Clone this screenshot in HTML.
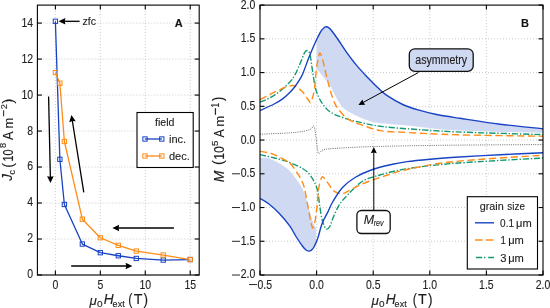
<!DOCTYPE html>
<html><head><meta charset="utf-8"><style>
html,body{margin:0;padding:0;background:#fff;width:550px;height:308px;overflow:hidden;position:relative}
text{stroke:#1e1e1e;stroke-width:0.12px;font-variant-ligatures:none} text.tk{stroke-width:0.1px}
</style></head><body>
<svg width="550" height="308" viewBox="0 0 550 308" font-family='"Liberation Sans", sans-serif' style="position:absolute;left:0;top:0;will-change:transform"><defs><clipPath id="clipA"><rect x="37.4" y="5.1" width="161.80" height="269.90"/></clipPath><clipPath id="clipB"><rect x="260.0" y="5.1" width="283.00" height="269.90"/></clipPath></defs><g stroke="#c4c4c4" stroke-width="0.9" stroke-dasharray="1 2"><line x1="55.38" y1="5.1" x2="55.38" y2="275.0"/><line x1="100.32" y1="5.1" x2="100.32" y2="275.0"/><line x1="145.27" y1="5.1" x2="145.27" y2="275.0"/><line x1="190.21" y1="5.1" x2="190.21" y2="275.0"/><line x1="37.4" y1="275.00" x2="199.2" y2="275.00"/><line x1="37.4" y1="239.01" x2="199.2" y2="239.01"/><line x1="37.4" y1="203.03" x2="199.2" y2="203.03"/><line x1="37.4" y1="167.04" x2="199.2" y2="167.04"/><line x1="37.4" y1="131.05" x2="199.2" y2="131.05"/><line x1="37.4" y1="95.07" x2="199.2" y2="95.07"/><line x1="37.4" y1="59.08" x2="199.2" y2="59.08"/><line x1="37.4" y1="23.09" x2="199.2" y2="23.09"/><line x1="316.60" y1="5.1" x2="316.60" y2="275.0"/><line x1="373.20" y1="5.1" x2="373.20" y2="275.0"/><line x1="429.80" y1="5.1" x2="429.80" y2="275.0"/><line x1="486.40" y1="5.1" x2="486.40" y2="275.0"/><line x1="260.0" y1="241.26" x2="543.0" y2="241.26"/><line x1="260.0" y1="207.53" x2="543.0" y2="207.53"/><line x1="260.0" y1="173.79" x2="543.0" y2="173.79"/><line x1="260.0" y1="140.05" x2="543.0" y2="140.05"/><line x1="260.0" y1="106.31" x2="543.0" y2="106.31"/><line x1="260.0" y1="72.58" x2="543.0" y2="72.58"/><line x1="260.0" y1="38.84" x2="543.0" y2="38.84"/></g><g clip-path="url(#clipA)"><polyline points="55.38,21.29 59.87,159.30 64.37,204.47 82.34,244.05 100.32,252.69 118.30,255.75 136.28,258.45 163.24,260.07 190.21,259.53" fill="none" stroke="#1743c4" stroke-width="1.3" stroke-linejoin="round"/><rect x="53.23" y="19.14" width="4.3" height="4.3" fill="none" stroke="#1743c4" stroke-width="1.0"/><rect x="57.72" y="157.15" width="4.3" height="4.3" fill="none" stroke="#1743c4" stroke-width="1.0"/><rect x="62.22" y="202.32" width="4.3" height="4.3" fill="none" stroke="#1743c4" stroke-width="1.0"/><rect x="80.19" y="241.90" width="4.3" height="4.3" fill="none" stroke="#1743c4" stroke-width="1.0"/><rect x="98.17" y="250.54" width="4.3" height="4.3" fill="none" stroke="#1743c4" stroke-width="1.0"/><rect x="116.15" y="253.60" width="4.3" height="4.3" fill="none" stroke="#1743c4" stroke-width="1.0"/><rect x="134.13" y="256.30" width="4.3" height="4.3" fill="none" stroke="#1743c4" stroke-width="1.0"/><rect x="161.09" y="257.92" width="4.3" height="4.3" fill="none" stroke="#1743c4" stroke-width="1.0"/><rect x="188.06" y="257.38" width="4.3" height="4.3" fill="none" stroke="#1743c4" stroke-width="1.0"/><polyline points="55.38,72.58 59.87,83.19 64.37,141.49 82.34,219.22 100.32,237.75 118.30,245.31 136.28,251.07 163.24,255.03 190.21,259.53" fill="none" stroke="#ff8c17" stroke-width="1.3" stroke-linejoin="round"/><rect x="53.23" y="70.43" width="4.3" height="4.3" fill="none" stroke="#ff8c17" stroke-width="1.0"/><rect x="57.72" y="81.04" width="4.3" height="4.3" fill="none" stroke="#ff8c17" stroke-width="1.0"/><rect x="62.22" y="139.34" width="4.3" height="4.3" fill="none" stroke="#ff8c17" stroke-width="1.0"/><rect x="80.19" y="217.07" width="4.3" height="4.3" fill="none" stroke="#ff8c17" stroke-width="1.0"/><rect x="98.17" y="235.60" width="4.3" height="4.3" fill="none" stroke="#ff8c17" stroke-width="1.0"/><rect x="116.15" y="243.16" width="4.3" height="4.3" fill="none" stroke="#ff8c17" stroke-width="1.0"/><rect x="134.13" y="248.92" width="4.3" height="4.3" fill="none" stroke="#ff8c17" stroke-width="1.0"/><rect x="161.09" y="252.88" width="4.3" height="4.3" fill="none" stroke="#ff8c17" stroke-width="1.0"/><rect x="188.06" y="257.38" width="4.3" height="4.3" fill="none" stroke="#ff8c17" stroke-width="1.0"/></g><line x1="79.60" y1="21.30" x2="64.40" y2="21.30" stroke="#000" stroke-width="1.3"/><polygon points="58.60,21.30 65.40,18.00 64.80,21.30 65.40,24.60" fill="#000"/><line x1="48.60" y1="96.50" x2="50.37" y2="177.20" stroke="#000" stroke-width="1.3"/><polygon points="50.50,183.00 47.05,176.27 50.36,176.80 53.65,176.13" fill="#000"/><line x1="83.80" y1="192.40" x2="72.32" y2="120.73" stroke="#000" stroke-width="1.3"/><polygon points="71.40,115.00 75.73,121.19 72.38,121.12 69.22,122.24" fill="#000"/><line x1="173.90" y1="228.00" x2="118.20" y2="228.00" stroke="#000" stroke-width="1.3"/><polygon points="112.40,228.00 119.20,224.70 118.60,228.00 119.20,231.30" fill="#000"/><line x1="71.20" y1="266.00" x2="126.60" y2="266.00" stroke="#000" stroke-width="1.3"/><polygon points="132.40,266.00 125.60,269.30 126.20,266.00 125.60,262.70" fill="#000"/><rect x="37.4" y="5.1" width="161.80" height="269.90" fill="none" stroke="#000" stroke-width="1.1"/><g stroke="#000" stroke-width="1.1"><line x1="55.38" y1="275.0" x2="55.38" y2="270.5"/><line x1="55.38" y1="5.1" x2="55.38" y2="9.6"/><line x1="100.32" y1="275.0" x2="100.32" y2="270.5"/><line x1="100.32" y1="5.1" x2="100.32" y2="9.6"/><line x1="145.27" y1="275.0" x2="145.27" y2="270.5"/><line x1="145.27" y1="5.1" x2="145.27" y2="9.6"/><line x1="190.21" y1="275.0" x2="190.21" y2="270.5"/><line x1="190.21" y1="5.1" x2="190.21" y2="9.6"/><line x1="37.4" y1="275.00" x2="41.9" y2="275.00"/><line x1="199.2" y1="275.00" x2="194.7" y2="275.00"/><line x1="37.4" y1="239.01" x2="41.9" y2="239.01"/><line x1="199.2" y1="239.01" x2="194.7" y2="239.01"/><line x1="37.4" y1="203.03" x2="41.9" y2="203.03"/><line x1="199.2" y1="203.03" x2="194.7" y2="203.03"/><line x1="37.4" y1="167.04" x2="41.9" y2="167.04"/><line x1="199.2" y1="167.04" x2="194.7" y2="167.04"/><line x1="37.4" y1="131.05" x2="41.9" y2="131.05"/><line x1="199.2" y1="131.05" x2="194.7" y2="131.05"/><line x1="37.4" y1="95.07" x2="41.9" y2="95.07"/><line x1="199.2" y1="95.07" x2="194.7" y2="95.07"/><line x1="37.4" y1="59.08" x2="41.9" y2="59.08"/><line x1="199.2" y1="59.08" x2="194.7" y2="59.08"/><line x1="37.4" y1="23.09" x2="41.9" y2="23.09"/><line x1="199.2" y1="23.09" x2="194.7" y2="23.09"/></g><g font-size="10.5" fill="#1e1e1e"><text class="tk" transform="translate(33.2,278.45) scale(1,1.14)" text-anchor="end">0</text><text class="tk" transform="translate(33.2,242.46) scale(1,1.14)" text-anchor="end">2</text><text class="tk" transform="translate(33.2,206.48) scale(1,1.14)" text-anchor="end">4</text><text class="tk" transform="translate(33.2,170.49) scale(1,1.14)" text-anchor="end">6</text><text class="tk" transform="translate(33.2,134.50) scale(1,1.14)" text-anchor="end">8</text><text class="tk" transform="translate(33.2,98.52) scale(1,1.14)" text-anchor="end">10</text><text class="tk" transform="translate(33.2,62.53) scale(1,1.14)" text-anchor="end">12</text><text class="tk" transform="translate(33.2,26.54) scale(1,1.14)" text-anchor="end">14</text><text class="tk" transform="translate(55.38,288.6) scale(1,1.14)" text-anchor="middle">0</text><text class="tk" transform="translate(100.32,288.6) scale(1,1.14)" text-anchor="middle">5</text><text class="tk" transform="translate(145.27,288.6) scale(1,1.14)" text-anchor="middle">10</text><text class="tk" transform="translate(190.21,288.6) scale(1,1.14)" text-anchor="middle">15</text></g><text x="178.8" y="27" font-size="11" font-weight="bold" text-anchor="middle" fill="#111">A</text><text x="82.5" y="24.6" font-size="10.5" fill="#1e1e1e">zfc</text><rect x="137" y="112.5" width="56.2" height="55" fill="#fff" stroke="#000" stroke-width="1.1"/><text transform="translate(155.050,125.700) scale(1.0285,1)" font-size="10.3" fill="#1e1e1e">field</text><line x1="144.8" y1="139" x2="161.9" y2="139" stroke="#1743c4" stroke-width="1.3"/><rect x="142.85" y="136.85" width="4.3" height="4.3" fill="none" stroke="#1743c4" stroke-width="1.0"/><rect x="159.65" y="136.85" width="4.3" height="4.3" fill="none" stroke="#1743c4" stroke-width="1.0"/><text x="169" y="143.3" font-size="11" fill="#1e1e1e">inc.</text><line x1="144.8" y1="156" x2="161.9" y2="156" stroke="#ff8c17" stroke-width="1.3"/><rect x="142.85" y="153.85" width="4.3" height="4.3" fill="none" stroke="#ff8c17" stroke-width="1.0"/><rect x="159.65" y="153.85" width="4.3" height="4.3" fill="none" stroke="#ff8c17" stroke-width="1.0"/><text x="169" y="160.3" font-size="11" fill="#1e1e1e">dec.</text><g transform="rotate(-90)"><text transform="translate(-180.767,12.464) scale(1.1106,1.1585)" font-size="12" font-style="italic" fill="#1e1e1e">J</text><text transform="translate(-174.574,15.013) scale(0.9793,0.9938)" font-size="9" fill="#1e1e1e">c</text><text transform="translate(-167.789,12.678) scale(1.1944,1.2970)" font-size="12" fill="#1e1e1e">(</text><text transform="translate(-161.425,12.657) scale(0.9026,1.2241)" font-size="12" fill="#1e1e1e">10</text><text transform="translate(-148.107,6.417) scale(1.1032,0.9970)" font-size="8.5" fill="#1e1e1e">8</text><text transform="translate(-139.925,12.600) scale(1.0682,1.2597)" font-size="12" fill="#1e1e1e">A</text><text transform="translate(-128.553,12.600) scale(1.0704,1.0376)" font-size="12" fill="#1e1e1e">m</text><text transform="translate(-116.979,8.448) scale(1.3803,1.4853)" font-size="8.5" fill="#1e1e1e">−</text><text transform="translate(-109.364,6.700) scale(1.0846,1.0446)" font-size="8.5" fill="#1e1e1e">2</text><text transform="translate(-103.584,12.678) scale(1.1944,1.2970)" font-size="12" fill="#1e1e1e">)</text></g><g transform="rotate(-90)"><text transform="translate(-182.229,223.500) scale(1.1634,1.1991)" font-size="12" font-style="italic" fill="#1e1e1e">M</text><text transform="translate(-165.112,223.222) scale(1.2258,1.2791)" font-size="12" fill="#1e1e1e">(</text><text transform="translate(-159.740,223.557) scale(1.0280,1.2241)" font-size="12" fill="#1e1e1e">10</text><text transform="translate(-146.088,218.205) scale(1.1414,1.1465)" font-size="8.5" fill="#1e1e1e">5</text><text transform="translate(-137.524,223.500) scale(1.0305,1.2113)" font-size="12" fill="#1e1e1e">A</text><text transform="translate(-126.791,223.500) scale(1.1180,0.9912)" font-size="12" fill="#1e1e1e">m</text><text transform="translate(-115.439,220.264) scale(1.5256,1.6503)" font-size="8.5" fill="#1e1e1e">−</text><text transform="translate(-107.536,218.700) scale(0.9823,1.2654)" font-size="8.5" fill="#1e1e1e">1</text><text transform="translate(-100.975,223.222) scale(1.0686,1.2791)" font-size="12" fill="#1e1e1e">)</text></g><g><text transform="translate(89.581,304.975) scale(1.0710,1.0108)" font-size="12.5" font-style="italic" fill="#1e1e1e">μ</text><text transform="translate(97.008,306.606) scale(1.1157,1.0672)" font-size="9" fill="#1e1e1e">0</text><text transform="translate(103.678,304.000) scale(1.0977,1.1628)" font-size="12.5" font-style="italic" fill="#1e1e1e">H</text><text transform="translate(112.616,306.603) scale(1.0037,1.1005)" font-size="9" fill="#1e1e1e">ext</text><text transform="translate(128.228,304.544) scale(0.9957,1.2966)" font-size="12.5" fill="#1e1e1e">(</text><text transform="translate(133.678,304.100) scale(1.1460,1.1628)" font-size="12.5" fill="#1e1e1e">T</text><text transform="translate(143.620,304.544) scale(1.0862,1.2966)" font-size="12.5" fill="#1e1e1e">)</text></g><g><text transform="translate(371.581,304.975) scale(1.0710,1.0108)" font-size="12.5" font-style="italic" fill="#1e1e1e">μ</text><text transform="translate(379.008,306.606) scale(1.1157,1.0672)" font-size="9" fill="#1e1e1e">0</text><text transform="translate(385.678,304.000) scale(1.0977,1.1628)" font-size="12.5" font-style="italic" fill="#1e1e1e">H</text><text transform="translate(394.616,306.603) scale(1.0037,1.1005)" font-size="9" fill="#1e1e1e">ext</text><text transform="translate(412.628,304.544) scale(0.9957,1.2966)" font-size="12.5" fill="#1e1e1e">(</text><text transform="translate(418.078,304.100) scale(1.1460,1.1628)" font-size="12.5" fill="#1e1e1e">T</text><text transform="translate(428.020,304.544) scale(1.0862,1.2966)" font-size="12.5" fill="#1e1e1e">)</text></g><g clip-path="url(#clipB)"><path d="M316.60,39.71 C316.83,39.23 317.27,38.22 318.00,36.80 C318.73,35.38 320.08,32.63 321.00,31.20 C321.92,29.77 322.67,28.93 323.50,28.20 C324.33,27.47 325.08,26.85 326.00,26.80 C326.92,26.75 328.12,27.33 329.00,27.90 C329.88,28.47 329.85,28.35 331.30,30.20 C332.75,32.05 335.23,35.43 337.70,39.00 C340.17,42.57 342.95,47.20 346.10,51.60 C349.25,56.00 353.08,61.17 356.60,65.40 C360.12,69.63 363.60,73.22 367.20,77.00 C370.80,80.78 375.00,85.07 378.20,88.10 C381.40,91.13 382.32,92.47 386.40,95.20 C390.48,97.93 397.25,102.00 402.70,104.50 C408.15,107.00 413.63,108.57 419.10,110.20 C424.57,111.83 428.68,112.95 435.50,114.30 C442.32,115.65 449.25,116.65 460.00,118.30 C470.75,119.95 486.17,122.45 500.00,124.20 C513.83,125.95 535.83,128.03 543.00,128.80 L543.00,133.00 C528.33,132.55 477.67,131.55 455.00,130.30 C432.33,129.05 419.50,126.67 407.00,125.50 C394.50,124.33 387.22,124.37 380.00,123.30 C372.78,122.23 369.12,121.15 363.70,119.10 C358.28,117.05 351.55,113.70 347.50,111.00 C343.45,108.30 342.38,107.23 339.40,102.90 C336.42,98.57 332.33,89.40 329.60,85.00 C326.87,80.60 324.92,78.92 323.00,76.50 C321.08,74.08 319.17,71.58 318.10,70.50 C317.03,69.42 316.85,70.08 316.60,70.00 Z" fill="#cfd9f1"/><path d="M260.00,157.90 C261.67,158.05 265.63,157.17 270.00,158.80 C274.37,160.43 282.13,164.72 286.20,167.70 C290.27,170.68 291.68,173.18 294.40,176.70 C297.12,180.22 300.32,184.42 302.50,188.80 C304.68,193.18 305.98,198.15 307.50,203.00 C309.02,207.85 310.38,214.07 311.60,217.90 C312.82,221.73 314.07,224.40 314.80,226.00 C315.53,227.60 315.80,227.25 316.00,227.50 L316.00,242.25 C315.67,243.04 314.83,245.62 314.00,247.00 C313.17,248.38 311.88,249.82 311.00,250.50 C310.12,251.18 309.53,251.18 308.70,251.10 C307.87,251.02 307.05,250.85 306.00,250.00 C304.95,249.15 304.07,248.25 302.40,246.00 C300.73,243.75 298.12,239.85 296.00,236.50 C293.88,233.15 292.52,229.78 289.70,225.90 C286.88,222.02 282.62,216.90 279.10,213.20 C275.58,209.50 271.78,206.15 268.60,203.70 C265.42,201.25 261.43,199.37 260.00,198.50 Z" fill="#cfd9f1"/><path d="M260.00,134.20 C263.73,134.05 275.97,133.67 282.40,133.30 C288.83,132.93 294.00,132.62 298.60,132.00 C303.20,131.38 307.43,130.53 310.00,129.60 C312.57,128.67 312.98,125.00 314.00,126.40 C315.02,127.80 315.37,133.55 316.10,138.00 C316.83,142.45 317.27,151.12 318.40,153.10 C319.53,155.08 320.25,150.67 322.90,149.90 C325.55,149.13 325.95,149.05 334.30,148.50 C342.65,147.95 353.72,147.15 373.00,146.60 C392.28,146.05 421.67,145.53 450.00,145.20 C478.33,144.87 527.50,144.70 543.00,144.60" fill="none" stroke="#777" stroke-width="1.0" stroke-dasharray="1.1 1.1"/><path d="M260.00,102.10 C261.67,101.38 266.43,99.82 270.00,97.80 C273.57,95.78 277.62,93.20 281.40,90.00 C285.18,86.80 289.68,82.77 292.70,78.60 C295.72,74.43 297.60,69.17 299.50,65.00 C301.40,60.83 302.88,56.02 304.10,53.60 C305.32,51.18 305.85,50.50 306.80,50.50 C307.75,50.50 308.93,50.80 309.80,53.60 C310.67,56.40 311.08,61.65 312.00,67.30 C312.92,72.95 314.15,82.47 315.30,87.50 C316.45,92.53 317.60,94.67 318.90,97.50 C320.20,100.33 321.05,101.98 323.10,104.50 C325.15,107.02 327.13,110.17 331.20,112.60 C335.27,115.03 342.08,117.35 347.50,119.10 C352.92,120.85 358.28,121.91 363.70,123.10 C369.12,124.29 372.78,125.31 380.00,126.25 C387.22,127.19 394.17,127.81 407.00,128.75 C419.83,129.69 434.33,130.93 457.00,131.90 C479.67,132.88 528.67,134.15 543.00,134.60" fill="none" stroke="#159a72" stroke-width="1.4" stroke-dasharray="6.2 1.8 1.4 1.8"/><path d="M260.00,154.60 C261.67,155.00 265.63,155.90 270.00,157.00 C274.37,158.10 280.78,159.28 286.20,161.20 C291.62,163.12 298.43,166.07 302.50,168.50 C306.57,170.93 308.17,172.42 310.60,175.80 C313.03,179.18 315.60,183.93 317.10,188.80 C318.60,193.67 318.77,199.88 319.60,205.00 C320.43,210.12 321.03,215.53 322.10,219.50 C323.17,223.47 324.70,227.67 326.00,228.80 C327.30,229.93 328.73,228.10 329.90,226.30 C331.07,224.50 331.53,221.42 333.00,218.00 C334.47,214.58 336.28,209.63 338.70,205.80 C341.12,201.97 343.53,199.09 347.50,195.00 C351.47,190.91 357.08,184.58 362.50,181.25 C367.92,177.92 372.58,177.08 380.00,175.00 C387.42,172.92 394.50,170.70 407.00,168.75 C419.50,166.80 432.33,165.09 455.00,163.30 C477.67,161.51 528.33,158.88 543.00,158.00" fill="none" stroke="#159a72" stroke-width="1.4" stroke-dasharray="6.2 1.8 1.4 1.8"/><path d="M260.00,99.50 C261.67,98.67 266.43,96.27 270.00,94.50 C273.57,92.73 277.62,90.40 281.40,88.90 C285.18,87.40 289.30,85.13 292.70,85.50 C296.10,85.87 299.15,88.65 301.80,91.10 C304.45,93.55 307.08,98.42 308.60,100.20 C310.12,101.98 309.95,103.50 310.90,101.80 C311.85,100.10 313.35,95.75 314.30,90.00 C315.25,84.25 315.83,72.93 316.60,67.30 C317.37,61.67 318.33,58.58 318.90,56.20 C319.47,53.82 319.40,52.53 320.00,53.00 C320.60,53.47 321.68,56.30 322.50,59.00 C323.32,61.70 323.90,65.03 324.90,69.20 C325.90,73.37 326.90,78.38 328.50,84.00 C330.10,89.62 332.15,97.87 334.50,102.90 C336.85,107.93 339.90,111.23 342.60,114.20 C345.30,117.17 347.18,118.80 350.70,120.70 C354.22,122.60 358.82,123.95 363.70,125.60 C368.58,127.25 372.78,129.45 380.00,130.60 C387.22,131.75 394.17,131.80 407.00,132.50 C419.83,133.20 434.33,134.18 457.00,134.80 C479.67,135.42 528.67,135.97 543.00,136.20" fill="none" stroke="#ff8c17" stroke-width="1.4" stroke-dasharray="7.2 3.6"/><path d="M260.00,151.40 C261.67,151.68 266.72,152.13 270.00,153.10 C273.28,154.07 276.45,155.57 279.70,157.20 C282.95,158.83 286.78,160.60 289.50,162.90 C292.22,165.20 293.83,167.77 296.00,171.00 C298.17,174.23 300.92,178.55 302.50,182.30 C304.08,186.05 304.02,186.47 305.50,193.50 C306.98,200.53 310.08,218.95 311.40,224.50 C312.72,230.05 312.75,227.63 313.40,226.80 C314.05,225.97 314.65,223.32 315.30,219.50 C315.95,215.68 316.75,209.03 317.30,203.90 C317.85,198.77 317.93,192.97 318.60,188.70 C319.27,184.43 320.53,180.22 321.30,178.30 C322.07,176.38 322.12,176.45 323.20,177.20 C324.28,177.95 326.17,180.62 327.80,182.80 C329.43,184.98 331.38,188.63 333.00,190.30 C334.62,191.97 336.17,192.25 337.50,192.80 C338.83,193.35 339.75,193.60 341.00,193.60 C342.25,193.60 341.83,194.23 345.00,192.80 C348.17,191.37 354.17,187.55 360.00,185.00 C365.83,182.45 372.17,180.08 380.00,177.50 C387.83,174.92 394.50,172.17 407.00,169.50 C419.50,166.83 432.33,163.88 455.00,161.50 C477.67,159.12 528.33,156.25 543.00,155.20" fill="none" stroke="#ff8c17" stroke-width="1.4" stroke-dasharray="7.2 3.6"/><path d="M260.00,110.50 C262.37,109.42 270.37,105.98 274.20,104.00 C278.03,102.02 280.37,100.55 283.00,98.60 C285.63,96.65 288.00,94.32 290.00,92.30 C292.00,90.28 293.30,88.78 295.00,86.50 C296.70,84.22 298.87,80.82 300.20,78.60 C301.53,76.38 301.60,76.60 303.00,73.20 C304.40,69.80 307.10,62.07 308.60,58.20 C310.10,54.33 310.85,52.70 312.00,50.00 C313.15,47.30 314.50,44.20 315.50,42.00 C316.50,39.80 317.08,38.60 318.00,36.80 C318.92,35.00 320.08,32.63 321.00,31.20 C321.92,29.77 322.67,28.93 323.50,28.20 C324.33,27.47 325.08,26.85 326.00,26.80 C326.92,26.75 328.12,27.33 329.00,27.90 C329.88,28.47 329.85,28.35 331.30,30.20 C332.75,32.05 335.23,35.43 337.70,39.00 C340.17,42.57 342.95,47.20 346.10,51.60 C349.25,56.00 353.08,61.17 356.60,65.40 C360.12,69.63 363.60,73.22 367.20,77.00 C370.80,80.78 375.00,85.07 378.20,88.10 C381.40,91.13 382.32,92.47 386.40,95.20 C390.48,97.93 397.25,102.00 402.70,104.50 C408.15,107.00 413.63,108.57 419.10,110.20 C424.57,111.83 428.68,112.95 435.50,114.30 C442.32,115.65 449.25,116.65 460.00,118.30 C470.75,119.95 486.17,122.45 500.00,124.20 C513.83,125.95 535.83,128.03 543.00,128.80" fill="none" stroke="#1743c4" stroke-width="1.4"/><path d="M260.00,198.50 C261.43,199.37 265.42,201.25 268.60,203.70 C271.78,206.15 275.58,209.50 279.10,213.20 C282.62,216.90 286.88,222.02 289.70,225.90 C292.52,229.78 293.88,233.15 296.00,236.50 C298.12,239.85 300.73,243.75 302.40,246.00 C304.07,248.25 304.95,249.15 306.00,250.00 C307.05,250.85 307.87,251.02 308.70,251.10 C309.53,251.18 310.12,251.18 311.00,250.50 C311.88,249.82 312.83,249.17 314.00,247.00 C315.17,244.83 316.65,241.43 318.00,237.50 C319.35,233.57 320.43,227.70 322.10,223.40 C323.77,219.10 326.20,215.35 328.00,211.70 C329.80,208.05 330.48,205.53 332.90,201.50 C335.32,197.47 338.82,191.50 342.50,187.50 C346.18,183.50 350.00,180.50 355.00,177.50 C360.00,174.50 366.25,171.71 372.50,169.50 C378.75,167.29 386.75,165.57 392.50,164.25 C398.25,162.93 400.75,162.44 407.00,161.60 C413.25,160.76 422.00,159.93 430.00,159.20 C438.00,158.47 443.33,157.93 455.00,157.20 C466.67,156.47 485.33,155.53 500.00,154.80 C514.67,154.07 535.83,153.13 543.00,152.80" fill="none" stroke="#1743c4" stroke-width="1.4"/></g><line x1="418.50" y1="72.50" x2="362.97" y2="102.53" stroke="#000" stroke-width="1.0"/><polygon points="358.40,105.00 362.43,99.41 363.33,102.34 365.28,104.69" fill="#000"/><line x1="373.80" y1="210.50" x2="373.80" y2="152.20" stroke="#000" stroke-width="1.0"/><polygon points="373.80,147.00 376.80,153.20 373.80,152.60 370.80,153.20" fill="#000"/><rect x="409.3" y="48.8" width="63.9" height="22.6" rx="5.5" ry="5.5" fill="#cfd9f1" stroke="#111" stroke-width="1.3"/><text transform="translate(415.249,63.951) scale(0.9645,1.1603)" font-size="11" fill="#1e1e1e">asymmetry</text><rect x="356.9" y="210.5" width="33.3" height="23.0" rx="4.5" ry="4.5" fill="#fff" stroke="#111" stroke-width="1.3"/><text transform="translate(363.817,223.500) scale(1.1332,1.0835)" font-size="11" font-style="italic" fill="#1e1e1e">M</text><text transform="translate(373.682,225.516) scale(0.8888,1.0724)" font-size="8" font-style="italic" fill="#1e1e1e">rev</text><rect x="260.0" y="5.1" width="283.00" height="269.90" fill="none" stroke="#000" stroke-width="1.1"/><g stroke="#000" stroke-width="1.1"><line x1="260.00" y1="275.0" x2="260.00" y2="270.5"/><line x1="260.00" y1="5.1" x2="260.00" y2="9.6"/><line x1="316.60" y1="275.0" x2="316.60" y2="270.5"/><line x1="316.60" y1="5.1" x2="316.60" y2="9.6"/><line x1="373.20" y1="275.0" x2="373.20" y2="270.5"/><line x1="373.20" y1="5.1" x2="373.20" y2="9.6"/><line x1="429.80" y1="275.0" x2="429.80" y2="270.5"/><line x1="429.80" y1="5.1" x2="429.80" y2="9.6"/><line x1="486.40" y1="275.0" x2="486.40" y2="270.5"/><line x1="486.40" y1="5.1" x2="486.40" y2="9.6"/><line x1="543.00" y1="275.0" x2="543.00" y2="270.5"/><line x1="543.00" y1="5.1" x2="543.00" y2="9.6"/><line x1="260.0" y1="275.00" x2="264.5" y2="275.00"/><line x1="543.0" y1="275.00" x2="538.5" y2="275.00"/><line x1="260.0" y1="241.26" x2="264.5" y2="241.26"/><line x1="543.0" y1="241.26" x2="538.5" y2="241.26"/><line x1="260.0" y1="207.53" x2="264.5" y2="207.53"/><line x1="543.0" y1="207.53" x2="538.5" y2="207.53"/><line x1="260.0" y1="173.79" x2="264.5" y2="173.79"/><line x1="543.0" y1="173.79" x2="538.5" y2="173.79"/><line x1="260.0" y1="140.05" x2="264.5" y2="140.05"/><line x1="543.0" y1="140.05" x2="538.5" y2="140.05"/><line x1="260.0" y1="106.31" x2="264.5" y2="106.31"/><line x1="543.0" y1="106.31" x2="538.5" y2="106.31"/><line x1="260.0" y1="72.58" x2="264.5" y2="72.58"/><line x1="543.0" y1="72.58" x2="538.5" y2="72.58"/><line x1="260.0" y1="38.84" x2="264.5" y2="38.84"/><line x1="543.0" y1="38.84" x2="538.5" y2="38.84"/><line x1="260.0" y1="5.10" x2="264.5" y2="5.10"/><line x1="543.0" y1="5.10" x2="538.5" y2="5.10"/></g><g font-size="10.5" fill="#1e1e1e"><text class="tk" transform="translate(255.3,278.45) scale(1,1.14)" text-anchor="end">2.0</text><text class="tk" transform="translate(255.3,244.71) scale(1,1.14)" text-anchor="end">1.5</text><text class="tk" transform="translate(255.3,210.97) scale(1,1.14)" text-anchor="end">1.0</text><text class="tk" transform="translate(255.3,177.24) scale(1,1.14)" text-anchor="end">0.5</text><text class="tk" transform="translate(255.3,143.50) scale(1,1.14)" text-anchor="end">0.0</text><text class="tk" transform="translate(255.3,109.76) scale(1,1.14)" text-anchor="end">0.5</text><text class="tk" transform="translate(255.3,76.03) scale(1,1.14)" text-anchor="end">1.0</text><text class="tk" transform="translate(255.3,42.29) scale(1,1.14)" text-anchor="end">1.5</text><text class="tk" transform="translate(255.3,8.55) scale(1,1.14)" text-anchor="end">2.0</text><text class="tk" transform="translate(272.0,288.7) scale(1,1.14)" text-anchor="end">0.5</text><text class="tk" transform="translate(316.60,288.7) scale(1,1.14)" text-anchor="middle">0.0</text><text class="tk" transform="translate(373.20,288.7) scale(1,1.14)" text-anchor="middle">0.5</text><text class="tk" transform="translate(429.80,288.7) scale(1,1.14)" text-anchor="middle">1.0</text><text class="tk" transform="translate(486.40,288.7) scale(1,1.14)" text-anchor="middle">1.5</text><text class="tk" transform="translate(543.00,288.7) scale(1,1.14)" text-anchor="middle">2.0</text></g><g fill="#1e1e1e"><rect x="232.0" y="274.55" width="8.0" height="0.95"/><rect x="232.0" y="240.81" width="8.0" height="0.95"/><rect x="232.0" y="207.08" width="8.0" height="0.95"/><rect x="232.0" y="173.34" width="8.0" height="0.95"/><rect x="249.0" y="284.1" width="8.0" height="0.95"/></g><text x="524.9" y="27.3" font-size="11" font-weight="bold" text-anchor="middle" fill="#111">B</text><rect x="467.3" y="196.7" width="70.2" height="72.3" fill="#fff" stroke="#000" stroke-width="1.1"/><text transform="translate(479.646,209.800) scale(1.0403,1)" font-size="10.4" fill="#1e1e1e">grain</text><text transform="translate(507.324,209.800) scale(0.9525,1)" font-size="10.4" fill="#1e1e1e">size</text><line x1="475.0" y1="222.8" x2="494.0" y2="222.8" stroke="#1743c4" stroke-width="1.4"/><text transform="translate(500.110,227.200) scale(0.9507,1)" font-size="10.5" fill="#1e1e1e">0.1</text><text transform="translate(516.050,227.200) scale(1.0600,1)" font-size="10.5" fill="#1e1e1e">μm</text><line x1="475.0" y1="240.0" x2="494.0" y2="240.0" stroke="#ff8c17" stroke-width="1.4" stroke-dasharray="7.6 3.2"/><text transform="translate(500.458,244.200) scale(0.9277,1)" font-size="10.5" fill="#1e1e1e">1</text><text transform="translate(508.150,244.200) scale(1.0600,1)" font-size="10.5" fill="#1e1e1e">μm</text><line x1="475.0" y1="257.5" x2="494.0" y2="257.5" stroke="#159a72" stroke-width="1.4" stroke-dasharray="0 1.0 6.2 1.8 1.4 1.8"/><text transform="translate(500.174,261.600) scale(1.0646,1)" font-size="10.5" fill="#1e1e1e">3</text><text transform="translate(508.150,261.600) scale(1.0600,1)" font-size="10.5" fill="#1e1e1e">μm</text></svg>
</body></html>
